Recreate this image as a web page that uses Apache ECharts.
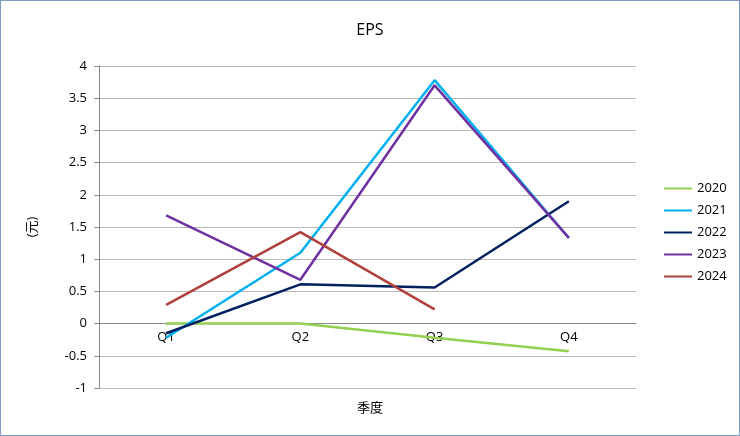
<!DOCTYPE html>
<html>
<head>
<meta charset="utf-8">
<script src="https://cdn.jsdelivr.net/npm/echarts@6/dist/echarts.min.js"></script>
<style>
	html, body {margin: 0; padding: 0; background: #fff;}
	#chart {width: 738px; height: 434px; border: 1px solid #7a9cc6;}
</style>
</head>
<body>
<div id="chart"></div>
<script>
const quarters = ['Q1', 'Q2', 'Q3', 'Q4'];
const years = ['2020', '2021', '2022', '2023', '2024'];
const eps2020 = [0, 0, -0.22, -0.43];
const eps2021 = [-0.22, 1.1, 3.78, 1.33];
const eps2022 = [-0.15, 0.61, 0.56, 1.9];
const eps2023 = [1.68, 0.68, 3.7, 1.33];
const eps2024 = [0.29, 1.42, 0.22, null];
const colors = ['#92d050', '#00b0f0', '#002060', '#7030a0', '#b0403c'];

const font = '"Open Sans", "Noto Sans CJK SC", sans-serif';
const chart = echarts.init(document.getElementById('chart'));
const values = [eps2020, eps2021, eps2022, eps2023, eps2024];

// the category axis sits on y = 0: plot height 324px over 5 units
chart.setOption({
	animation: false,
	color: colors,
	textStyle: {fontFamily: font},
	title: [
		{text: 'EPS', left: 'center', top: 16, textStyle: {fontSize: 16, fontWeight: 'normal', color: '#000', fontFamily: font}},
		{text: '季度', left: 'center', top: 396, textStyle: {fontSize: 13, fontWeight: 'normal', color: '#000', fontFamily: font}}
	],
	legend: {
		orient: 'vertical', left: 658, top: 176, itemGap: 9, itemWidth: 28, itemHeight: 2,
		icon: 'rect', data: years,
		textStyle: {fontSize: 13, color: '#000', fontFamily: font}
	},
	grid: {left: 98, right: 103, top: 65, bottom: 47, containLabel: false},
	xAxis: {
		type: 'category', data: quarters, boundaryGap: true,
		offset: -64.8,
		axisLine: {onZero: false, lineStyle: {color: '#888'}},
		axisTick: {show: false},
		axisLabel: {color: '#000', fontSize: 13, margin: 8}
	},
	yAxis: {
		type: 'value', min: -1, max: 4, interval: 0.5,
		name: '(元)', nameLocation: 'middle', nameGap: 60, nameRotate: 90,
		nameTextStyle: {color: '#000', fontSize: 13},
		axisLine: {show: true, lineStyle: {color: '#888'}},
		axisTick: {show: true, length: 5, lineStyle: {color: '#888'}},
		axisLabel: {color: '#000', fontSize: 13, margin: 12},
		splitLine: {lineStyle: {color: '#b8b8b8'}}
	},
	series: years.map((y, i) => ({
		name: y, type: 'line', data: values[i],
		symbol: 'none', lineStyle: {width: 2.5}
	}))
});
</script>
</body>
</html>
